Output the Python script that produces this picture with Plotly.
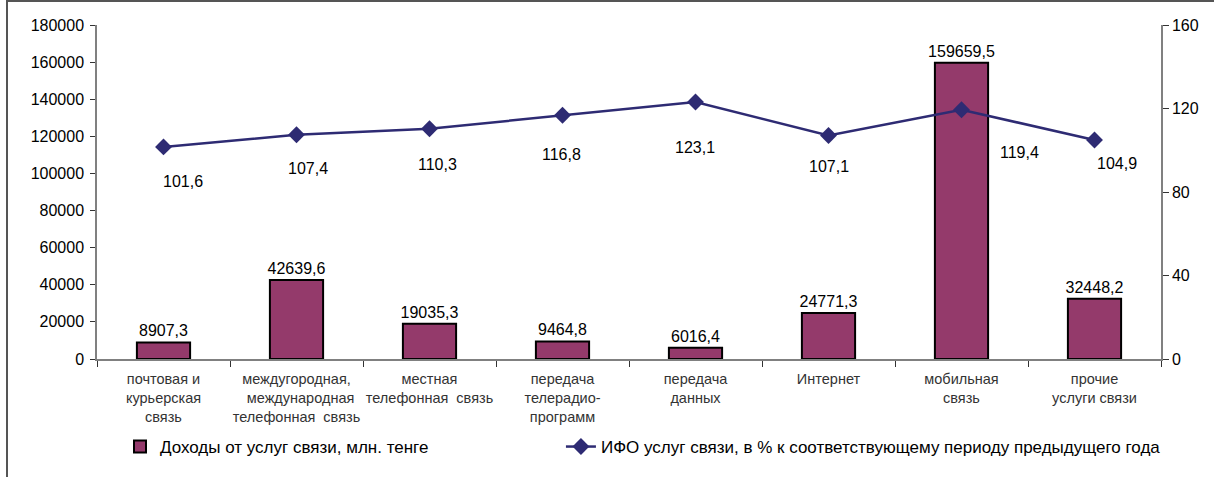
import plotly.graph_objects as go

categories = [
    "почтовая и<br>курьерская<br>связь",
    "междугородная,<br>  международная<br>телефонная  связь",
    "местная<br>телефонная  связь",
    "передача<br>телерадио-<br>программ",
    "передача<br>данных",
    "Интернет",
    "мобильная<br>связь",
    "прочие<br>услуги связи",
]
revenue = [8907.3, 42639.6, 19035.3, 9464.8, 6016.4, 24771.3, 159659.5, 32448.2]
ifo = [101.6, 107.4, 110.3, 116.8, 123.1, 107.1, 119.4, 104.9]
left_ticks = [0, 20000, 40000, 60000, 80000, 100000, 120000, 140000, 160000, 180000]
right_ticks = [0, 40, 80, 120, 160]
bar_name = "Доходы от услуг связи, млн. тенге"
line_name = "ИФО услуг связи, в % к соответствующему периоду предыдущего года"

# label offsets (px) for line values, as placed in the source chart
label_dx = [19, 11, 8, -1, -1, 0, 58, 22]
label_dy = [-35, -34, -36, -39, -45, -31, -43, -23]

def fmt(v):
    return f"{v:.1f}".replace(".", ",")

W, H = 1214, 477
L, R, T, B = 97, 53, 25, 118
FONT = "Liberation Sans, Arial, sans-serif"
AXIS_COLOR = "#808080"

fig = go.Figure()
fig.add_trace(go.Bar(
    x=categories, y=revenue, name=bar_name + "\u00a0" * 27,
    marker=dict(color="#943A6B", line=dict(color="#000000", width=2)),
    width=0.4,
    text=[fmt(v) for v in revenue], textposition="outside",
    constraintext="none",
    textfont=dict(size=16, color="#000000", family=FONT),
    cliponaxis=False,
))
fig.add_trace(go.Scatter(
    x=categories, y=ifo, name=line_name, yaxis="y2",
    mode="lines+markers",
    line=dict(color="#2E2B73", width=2.5),
    marker=dict(symbol="diamond", size=13, color="#2E2B73"),
))

for c, v, dx, dy in zip(categories, ifo, label_dx, label_dy):
    fig.add_annotation(
        x=c, y=v, yref="y2", text=fmt(v), showarrow=False,
        xshift=dx, yshift=dy,
        font=dict(size=16, color="#000000", family=FONT),
    )

pw = W - L - R
ph = H - T - B
# outer frame
fig.add_shape(type="rect", xref="paper", yref="paper",
              x0=(7 - L) / pw, x1=(W + 5 - L) / pw,
              y0=-(H + 5 - T - ph) / ph, y1=(ph + T - 1) / ph,
              line=dict(color="#555555", width=2), layer="below")

fig.update_layout(
    width=W, height=H,
    margin=dict(l=L, r=R, t=T, b=B),
    paper_bgcolor="white", plot_bgcolor="white",
    font=dict(family=FONT, size=15, color="#000000"),
    showlegend=True,
    legend=dict(orientation="h", x=(120 - L) / pw, xanchor="left",
                yref="container", y=1 - 429 / H, yanchor="top",
                font=dict(size=17, family=FONT, color="#000000"),
                bgcolor="rgba(0,0,0,0)"),
    xaxis=dict(
        showline=True, linecolor=AXIS_COLOR, linewidth=1.5,
        ticks="outside", tickson="boundaries", ticklen=6, tickcolor="#333333",
        tickfont=dict(size=14.5, color="#333333", family=FONT),
        tickangle=0, ticklabelstandoff=6, automargin=False,
        showgrid=False, zeroline=False,
    ),
    yaxis=dict(
        range=[0, 180000], tickvals=left_ticks, tickformat="d",
        showline=True, linecolor=AXIS_COLOR, linewidth=1.5,
        ticks="outside", ticklen=5, tickcolor="#333333",
        tickfont=dict(size=16, color="#000000", family=FONT),
        ticklabelstandoff=3,
        showgrid=False, zeroline=False,
    ),
    yaxis2=dict(
        range=[0, 160], tickvals=right_ticks, overlaying="y", side="right",
        showline=True, linecolor=AXIS_COLOR, linewidth=1.5,
        ticks="outside", ticklen=6, tickcolor="#333333",
        tickfont=dict(size=16, color="#000000", family=FONT),
        showgrid=False, zeroline=False,
    ),
)

fig.write_html("out.html", config={"displayModeBar": False},
               post_script="document.body.style.margin='0';document.body.style.overflow='hidden';")
